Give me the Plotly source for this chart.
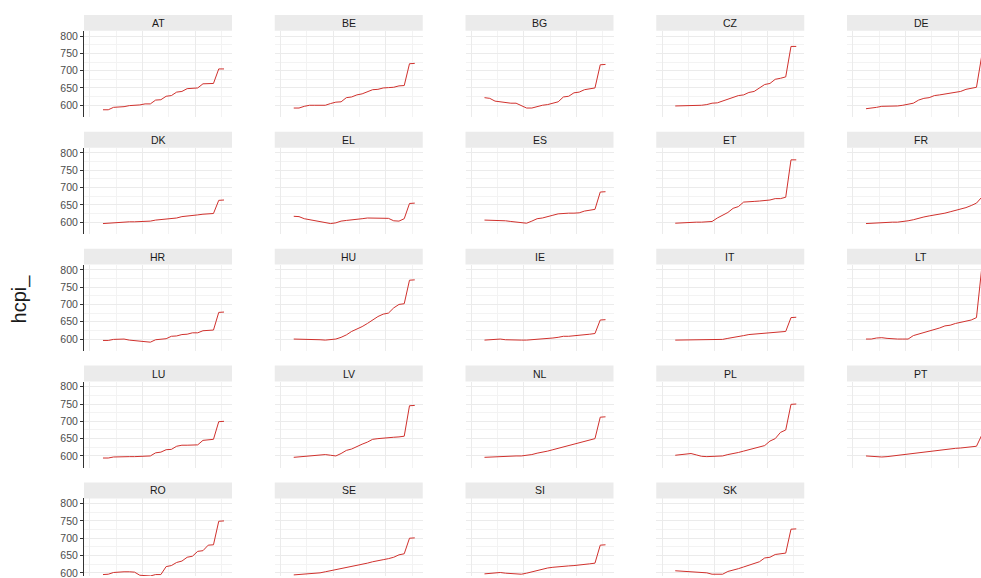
import plotly.graph_objects as go

# ---- data -------------------------------------------------------------
countries = ["AT", "BE", "BG", "CZ", "DE",
             "DK", "EL", "ES", "ET", "FR",
             "HR", "HU", "IE", "IT", "LT",
             "LU", "LV", "NL", "PL", "PT",
             "RO", "SE", "SI", "SK"]

years = list(range(2000, 2024))

hcpi_at = [587, 587, 594, 594, 596, 599, 599, 601, 604, 604, 615, 616,
           626, 628, 638, 640, 648, 650, 650, 662, 662, 663, 705, 705]
hcpi_be = [592, 592, 597, 600, 600, 600, 600, 605, 609, 610, 622, 624,
           630, 633, 638, 645, 646, 650, 651, 652, 656, 657, 720, 721]
hcpi_bg = [622, 620, 612, 610, 607, 606, 606, 598, 592, 592, 597, 600,
           602, 606, 610, 624, 626, 636, 638, 645, 648, 650, 717, 718]
hcpi_cz = [598, 598, 598, 598, 599, 600, 602, 606, 607, 612, 618, 622,
           628, 630, 637, 640, 650, 660, 663, 675, 678, 682, 770, 770]
hcpi_de = [590, 591, 594, 597, 597, 597, 598, 600, 604, 606, 615, 620,
           622, 628, 630, 632, 636, 638, 640, 646, 648, 652, 743, 743]
hcpi_dk = [596, 597, 600, 601, 601, 601, 601, 601, 602, 603, 606, 607,
           609, 610, 612, 616, 617, 620, 621, 623, 624, 625, 663, 664]
hcpi_el = [617, 616, 610, 607, 604, 600, 598, 596, 598, 603, 605, 606,
           608, 610, 612, 612, 612, 612, 611, 604, 603, 610, 654, 655]
hcpi_es = [606, 606, 606, 606, 604, 602, 601, 598, 597, 603, 610, 612,
           617, 620, 624, 626, 626, 626, 627, 632, 635, 637, 687, 688]
hcpi_et = [597, 598, 600, 600, 600, 600, 600, 602, 612, 620, 628, 640,
           645, 658, 660, 660, 661, 662, 664, 668, 668, 672, 780, 780]
hcpi_fr = [596, 597, 598, 600, 600, 600, 600, 601, 604, 607, 612, 615,
           618, 620, 624, 626, 630, 634, 637, 642, 648, 655, 672, 673]
hcpi_hr = [596, 596, 599, 600, 600, 597, 595, 595, 591, 591, 598, 600,
           601, 608, 609, 613, 614, 618, 618, 624, 626, 626, 677, 678]
hcpi_hu = [600, 600, 600, 600, 600, 598, 597, 598, 600, 605, 612, 622,
           628, 636, 645, 655, 665, 672, 675, 690, 700, 702, 770, 771]
hcpi_ie = [597, 598, 599, 600, 598, 597, 597, 597, 597, 598, 598, 599,
           600, 603, 605, 608, 608, 609, 610, 612, 614, 616, 655, 656]
hcpi_it = [597, 597, 597, 597, 597, 597, 597, 597, 597, 599, 602, 604,
           608, 610, 613, 614, 616, 617, 618, 619, 620, 622, 662, 663]
hcpi_lt = [600, 600, 603, 604, 602, 600, 600, 600, 600, 610, 614, 620,
           623, 628, 632, 638, 640, 645, 648, 652, 655, 662, 805, 805]
hcpi_lu = [594, 594, 597, 598, 598, 598, 598, 598, 598, 600, 609, 611,
           618, 619, 628, 631, 631, 631, 632, 645, 646, 648, 699, 700]
hcpi_lv = [596, 597, 599, 601, 601, 603, 604, 602, 600, 607, 616, 620,
           628, 634, 640, 648, 650, 652, 653, 654, 655, 657, 745, 746]
hcpi_nl = [596, 597, 598, 599, 600, 600, 600, 600, 601, 604, 608, 610,
           614, 618, 622, 626, 630, 633, 637, 642, 646, 650, 712, 713]
hcpi_pl = [602, 603, 606, 607, 603, 599, 598, 598, 599, 600, 604, 606,
           610, 614, 618, 620, 625, 630, 643, 650, 668, 675, 749, 750]
hcpi_pt = [600, 599, 597, 597, 598, 600, 601, 603, 605, 607, 609, 611,
           613, 615, 617, 619, 620, 622, 623, 624, 626, 628, 660, 661]
hcpi_ro = [595, 596, 601, 603, 603, 603, 602, 593, 591, 591, 595, 595,
           618, 621, 630, 634, 645, 648, 662, 664, 680, 681, 749, 750]
hcpi_se = [594, 595, 596, 597, 598, 600, 603, 606, 609, 612, 614, 617,
           620, 624, 628, 632, 636, 638, 641, 645, 652, 655, 700, 701]
hcpi_si = [597, 598, 600, 601, 599, 598, 597, 596, 599, 603, 607, 611,
           614, 616, 618, 619, 620, 621, 622, 624, 626, 628, 680, 681]
hcpi_sk = [606, 605, 602, 602, 601, 601, 600, 596, 595, 596, 604, 607,
           612, 617, 622, 629, 632, 643, 645, 653, 655, 657, 726, 727]

series = [hcpi_at, hcpi_be, hcpi_bg, hcpi_cz, hcpi_de,
          hcpi_dk, hcpi_el, hcpi_es, hcpi_et, hcpi_fr,
          hcpi_hr, hcpi_hu, hcpi_ie, hcpi_it, hcpi_lt,
          hcpi_lu, hcpi_lv, hcpi_nl, hcpi_pl, hcpi_pt,
          hcpi_ro, hcpi_se, hcpi_si, hcpi_sk]

y_ticks = [600, 650, 700, 750, 800]

# ---- facet geometry (pixels) -----------------------------------------
W, H = 981, 578
N_COLS = 5
COL_LEFT0, COL_PITCH, PANEL_W = 84.0, 190.75, 148.0
ROW_TOP0, ROW_PITCH, STRIP_H, PANEL_H = 14.0, 117.5, 16.0, 87.0

X_LEFT, X_RIGHT = 1996.39, 2024.52   # full panel x span
Y_BOT, Y_TOP = 565.0, 815.0          # full panel y span

FONT = "Liberation Sans, Arial, Helvetica, sans-serif"
LINE_COLOR = "#D0312D"
GRID_MAJOR = "#EBEBEB"
GRID_MINOR = "#F3F3F3"

fig = go.Figure()
shapes, annotations = [], []
layout_axes = {}

for i, (code, vals) in enumerate(zip(countries, series)):
    r, c = divmod(i, N_COLS)
    n = i + 1
    x0 = COL_LEFT0 + c * COL_PITCH
    x1 = min(x0 + PANEL_W, W)
    s_top = ROW_TOP0 + r * ROW_PITCH
    p_top = s_top + STRIP_H
    p_bot = min(p_top + PANEL_H, H)

    xr = [X_LEFT, X_LEFT + (X_RIGHT - X_LEFT) * (x1 - x0) / PANEL_W]
    yr = [Y_TOP - (Y_TOP - Y_BOT) * (p_bot - p_top) / PANEL_H, Y_TOP]

    xa = "xaxis" if n == 1 else f"xaxis{n}"
    ya = "yaxis" if n == 1 else f"yaxis{n}"
    left_col = (c == 0)

    layout_axes[xa] = dict(
        domain=[x0 / W, x1 / W], range=xr, anchor=f"y{n}",
        showticklabels=False, ticks="", zeroline=False, showline=False,
        showgrid=True, gridcolor=GRID_MAJOR, gridwidth=1,
        tick0=1997.5, dtick=10,
        minor=dict(tick0=2002.5, dtick=10, showgrid=True,
                   gridcolor=GRID_MINOR, gridwidth=1),
        fixedrange=True,
    )
    layout_axes[ya] = dict(
        domain=[1 - p_bot / H, 1 - p_top / H], range=yr, anchor=f"x{n}",
        tickmode="array", tickvals=y_ticks,
        showticklabels=left_col, ticklabeloverflow="allow",
        ticks="outside" if left_col else "", ticklen=3, tickwidth=1,
        tickcolor="#333333",
        showline=left_col, linecolor="#333333", linewidth=1,
        zeroline=False, showgrid=True, gridcolor=GRID_MAJOR, gridwidth=1,
        minor=dict(tickmode="array", tickvals=[625, 675, 725, 775],
                   showgrid=True, gridcolor=GRID_MINOR, gridwidth=1),
        tickfont=dict(family=FONT, size=10.5, color="#4D4D4D"),
        fixedrange=True,
    )

    fig.add_trace(go.Scatter(
        x=years, y=vals, mode="lines",
        line=dict(color=LINE_COLOR, width=1),
        xaxis=f"x{n}", yaxis=f"y{n}", showlegend=False,
        hoverinfo="skip",
    ))

    # facet strip
    shapes.append(dict(
        type="rect", xref="paper", yref="paper",
        x0=x0 / W, x1=x1 / W,
        y0=1 - (s_top + STRIP_H) / H, y1=1 - s_top / H,
        fillcolor="#EBEBEB", line=dict(width=0), layer="below",
    ))
    annotations.append(dict(
        text=code, xref="paper", yref="paper",
        x=(x0 + PANEL_W / 2) / W, y=1 - (s_top + STRIP_H / 2) / H,
        xanchor="center", yanchor="middle", showarrow=False,
        font=dict(family=FONT, size=10.5, color="#1A1A1A"),
    ))

# shared y-axis title
annotations.append(dict(
    text="hcpi_", xref="paper", yref="paper",
    x=19 / W, y=1 - 300 / H, textangle=-90,
    xanchor="center", yanchor="middle", showarrow=False,
    font=dict(family=FONT, size=20, color="#1A1A1A"),
))

fig.update_layout(
    width=W, height=H,
    margin=dict(l=0, r=0, t=0, b=0),
    paper_bgcolor="white", plot_bgcolor="white",
    shapes=shapes, annotations=annotations,
    **layout_axes,
)

fig.write_html("out.html", config={"displayModeBar": False})
